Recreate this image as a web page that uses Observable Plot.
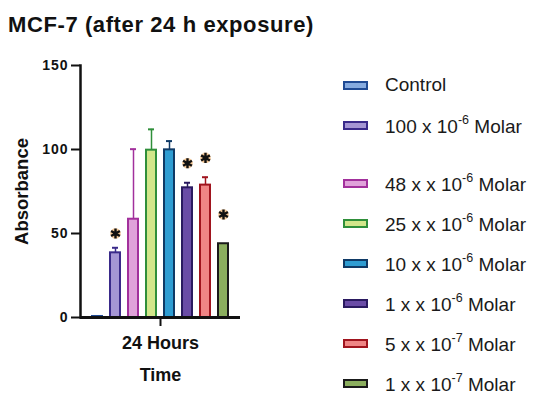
<!DOCTYPE html>
<html>
<head>
<meta charset="utf-8">
<script src="https://cdn.jsdelivr.net/npm/d3@7"></script>
<script src="https://cdn.jsdelivr.net/npm/@observablehq/plot@0.6"></script>
<style>
  html, body { margin: 0; padding: 0; background: #fff; }
  #wrap { position: relative; width: 533px; height: 397px; overflow: hidden; font-family: "Liberation Sans", Arial, sans-serif; }
  #title { position: absolute; left: 8px; top: 14px; font-size: 22px; line-height: 22px; font-weight: bold; letter-spacing: 0.6px; color: #111; white-space: nowrap; }
  #chart { position: absolute; left: 0; top: 0; }
  #chart svg g[aria-label="y-axis tick label"] text { letter-spacing: 1px; }
  #legend { position: absolute; left: 343px; top: 65px; }
  .row { display: flex; align-items: center; height: 40px; white-space: nowrap; }
  .row.gap { margin-top: 18px; }
  .sw { width: 21px; height: 5px; border: 2px solid; margin-right: 17px; box-sizing: content-box; }
  .lab { font-size: 19px; color: #1a1a1a; line-height: 40px; }
  .lab sup { font-size: 12.5px; position: relative; top: -2px; }
</style>
</head>
<body>
<div id="wrap">
  <div id="title"></div>
  <div id="chart"></div>
  <div id="legend"></div>
</div>
<script>
// ---- data ----
const chartTitle = "MCF-7 (after 24 h exposure)";
const timepoint = "24 Hours";
const conditions = [
  "Control",
  "100 x 10-6 Molar",
  "48 x x 10-6 Molar",
  "25 x x 10-6 Molar",
  "10 x x 10-6 Molar",
  "1 x x 10-6 Molar",
  "5 x x 10-7 Molar",
  "1 x x 10-7 Molar"
];
const means = [0.6, 38.5, 58.5, 99.6, 99.8, 77.2, 78.8, 43.9];
const sems = [0, 3.0, 41.7, 12.4, 5.2, 3.0, 4.7, 0];
const asteriskAt = [null, 50, null, null, null, 91.8, 95, 61.3];
const yTicks = [0, 50, 100, 150];
const fills = ["#86abe0", "#a596d4", "#e0a2da", "#d2e68a", "#2f9dd2", "#6a4ca6", "#ef8585", "#8bae5e"];
const strokes = ["#1f4a94", "#3a2a8a", "#a2309c", "#2f8f3a", "#0f3a66", "#2a1a60", "#a0141e", "#1a1a1a"];

// ---- build ----
document.getElementById("title").textContent = chartTitle;

const rows = conditions.map((c, i) => ({
  time: timepoint, cond: c, mean: means[i], sem: sems[i],
  hi: means[i] + sems[i], star: asteriskAt[i], stroke: strokes[i]
}));
const errRows = rows.filter(d => d.sem > 0);
const starRows = rows.filter(d => d.star != null);

const chart = Plot.plot({
  width: 245,
  height: 397,
  marginTop: 65,
  marginBottom: 80,
  marginLeft: 80,
  marginRight: 5,
  style: { fontFamily: "'Liberation Sans', Arial, sans-serif", color: "#111", background: "transparent", overflow: "visible" },
  fx: { padding: 0, label: null },
  x: { domain: conditions, axis: null, paddingInner: 0.47, paddingOuter: 0.2, insetLeft: 4.5, insetRight: 5 },
  y: { domain: [0, 150], nice: false },
  color: { domain: conditions, range: fills },
  marks: [
    Plot.barY(rows, { fx: "time", x: "cond", y: "mean", fill: "cond", stroke: "stroke", strokeWidth: 2 }),
    Plot.ruleX(errRows, { fx: "time", x: "cond", y1: "mean", y2: "hi", stroke: "stroke", strokeWidth: 1.5 }),
    Plot.tickY(errRows, { fx: "time", x: "cond", y: "hi", stroke: "stroke", strokeWidth: 2, insetLeft: 2, insetRight: 2 }),
    Plot.dot(starRows, { fx: "time", x: "cond", y: "star", symbol: "asterisk", r: 4.8, stroke: "#e8963a", strokeWidth: 4.5, strokeOpacity: 0.55 }),
    Plot.dot(starRows, { fx: "time", x: "cond", y: "star", symbol: "asterisk", r: 4.8, stroke: "#111", strokeWidth: 2.4 }),
    Plot.ruleY([0], { strokeWidth: 3, stroke: "#111" }),
    Plot.frame({ anchor: "left", strokeWidth: 2.5, stroke: "#111" }),
    Plot.axisY({ ticks: yTicks, tickSize: 9, tickPadding: 3, fontSize: 14, fontWeight: "bold", label: null, strokeWidth: 2 }),
    Plot.axisFx({ anchor: "bottom", tickSize: 9, tickPadding: 10, fontSize: 18, fontWeight: "bold", label: null, strokeWidth: 2 }),
    Plot.text(["Absorbance"], { frameAnchor: "left", textAnchor: "middle", lineAnchor: "middle", rotate: -90, dx: -58, fontSize: 18.5, fontWeight: "bold" }),
    Plot.text(["Time"], { frameAnchor: "bottom", textAnchor: "middle", lineAnchor: "middle", dy: 58, fontSize: 18, fontWeight: "bold" })
  ]
});
document.getElementById("chart").appendChild(chart);

// ---- legend ----
const legend = document.getElementById("legend");
conditions.forEach((c, i) => {
  const row = document.createElement("div");
  row.className = "row" + (i === 2 ? " gap" : "");
  const sw = document.createElement("div");
  sw.className = "sw";
  sw.style.background = fills[i];
  sw.style.borderColor = strokes[i];
  const lab = document.createElement("span");
  lab.className = "lab";
  lab.innerHTML = c.replace(/10(-\d)/, "10<sup>$1</sup>");
  row.appendChild(sw);
  row.appendChild(lab);
  legend.appendChild(row);
});
</script>
</body>
</html>
